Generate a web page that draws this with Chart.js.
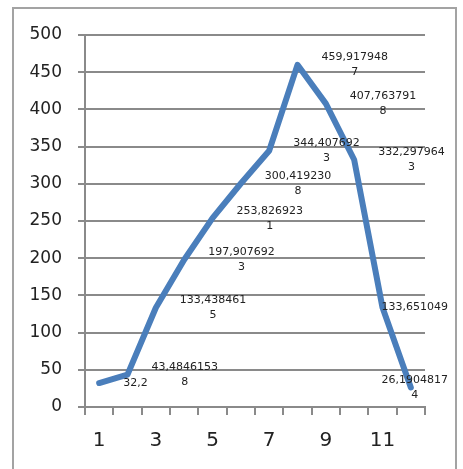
<!DOCTYPE html>
<html>
<head>
<meta charset="utf-8">
<script src="https://cdn.jsdelivr.net/npm/chart.js@4/dist/chart.umd.min.js"></script>
<style>
  html, body { margin: 0; padding: 0; background: #fff; }
  #wrap { width: 463px; height: 469px; position: relative; }
</style>
</head>
<body>
<div id="wrap"><canvas id="c" width="463" height="469"></canvas></div>
<script>
// Series: one value per sample number
const categories = ['1', '2', '3', '4', '5', '6', '7', '8', '9', '10', '11', '12'];
const values = [32.2, 43.48461538, 133.4384615, 197.9076923, 253.8269231, 300.4192308,
                344.4076923, 459.9179487, 407.7637918, 332.2979643, 133.651049, 26.19048174];
// Value axis range and step
const yMin = 0;
const yMax = 500;
const yStep = 50;

const GRID = '#8a8a8a';
const TEXT = '#222';

// Comma decimal, wrapped every 10 characters
function labelLines(v) {
  const s = String(v).replace('.', ',');
  const out = [];
  for (let i = 0; i < s.length; i += 10) out.push(s.slice(i, i + 10));
  return out;
}

const frame = {
  id: 'frame',
  beforeDraw(chart) {
    const ctx = chart.ctx;
    ctx.save();
    ctx.strokeStyle = '#a3a3a3';
    ctx.lineWidth = 2;
    ctx.strokeRect(13, 8, 443, 480);
    ctx.restore();
  }
};

const valueLabels = {
  id: 'valueLabels',
  afterDatasetsDraw(chart) {
    const ctx = chart.ctx;
    const meta = chart.getDatasetMeta(0);
    ctx.save();
    ctx.font = '11px "DejaVu Sans"';
    ctx.fillStyle = TEXT;
    ctx.textBaseline = 'middle';
    ctx.textAlign = 'center';
    const lh = 15;
    const rightLimit = 448;
    meta.data.forEach((pt, i) => {
      const lines = labelLines(values[i]);
      const w = Math.max(...lines.map(l => ctx.measureText(l).width));
      let left = pt.x + 24;
      if (left + w > rightLimit) left = rightLimit - w;
      const cx = left + w / 2;
      const top = pt.y - (lines.length - 1) * lh / 2;
      lines.forEach((l, k) => ctx.fillText(l, cx, top + k * lh));
    });
    ctx.restore();
  }
};

new Chart(document.getElementById('c'), {
  type: 'line',
  data: {
    labels: categories,
    datasets: [{
      data: values,
      borderColor: '#4a7ebb',
      borderWidth: 6,
      borderCapStyle: 'round',
      borderJoinStyle: 'round',
      pointRadius: 0,
      tension: 0,
      fill: false
    }]
  },
  options: {
    responsive: false,
    animation: false,
    events: [],
    layout: { padding: { left: 0, right: 38, top: 35, bottom: 0 } },
    plugins: { legend: { display: false }, tooltip: { enabled: false } },
    scales: {
      x: {
        offset: true,
        grid: { offset: true, drawOnChartArea: false, drawTicks: true, tickLength: 8, color: GRID, lineWidth: 2 },
        border: { color: GRID, width: 2 },
        ticks: {
          autoSkip: false,
          maxRotation: 0,
          padding: 14,
          color: TEXT,
          font: { family: '"DejaVu Sans"', size: 20 },
          callback: (v, i) => (i % 2 === 0 ? categories[i] : '')
        },
        afterFit(s) { s.height = 62; }
      },
      y: {
        min: yMin,
        max: yMax,
        grid: { color: GRID, lineWidth: 2, tickLength: 7 },
        border: { color: GRID, width: 2 },
        ticks: {
          stepSize: yStep,
          padding: 16,
          color: TEXT,
          font: { family: '"DejaVu Sans"', size: 17 }
        },
        afterFit(s) { s.width = 85; }
      }
    }
  },
  plugins: [frame, valueLabels]
});
</script>
</body>
</html>
